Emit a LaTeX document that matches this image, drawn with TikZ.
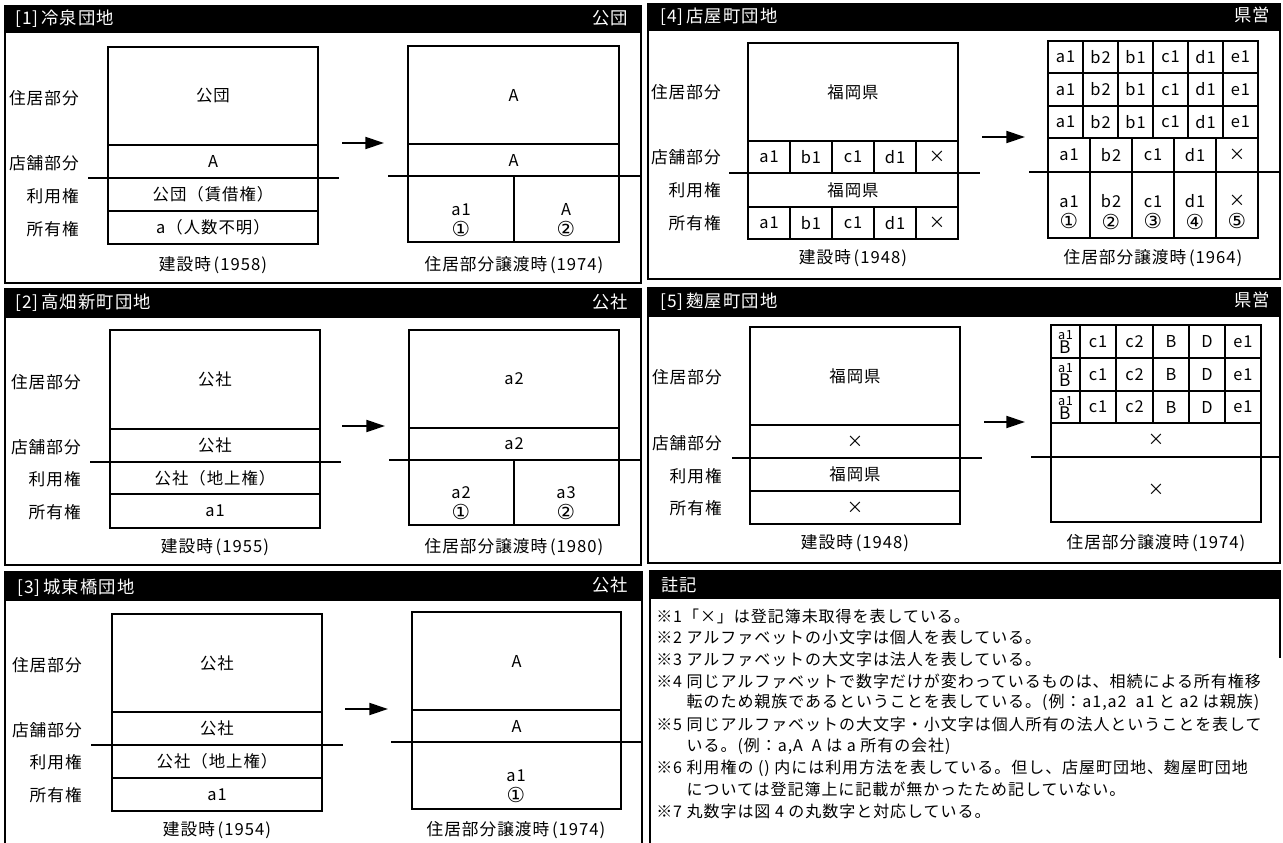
\documentclass[tikz,border=0pt]{standalone}
\usepackage{fontspec}
\setmainfont{Noto Sans CJK JP}[LetterSpace=6]
\newfontfamily\circfont{DejaVu Sans}
\usetikzlibrary{arrows.meta}
\newcommand\cn[1]{{\circfont\fontsize{15.5}{15.5}\selectfont #1}}
\newcommand\cel[6]{\node[cellbox, minimum width={(#4-#2)*0.75pt}, minimum height={(#5-#3)*0.75pt}] (#1) at ({(#2+#4)/2},{(#3+#5)/2}) {#6};}
\newcommand\rowlabels[6]{%
  \node[lbl] (#1a) at (#2,#3) {住居部分};
  \node[lbl] (#1b) at (#2,#4) {店舗部分};
  \node[lbl] (#1c) at (#2,#5) {利用権};
  \node[lbl] (#1d) at (#2,#6) {所有権};}
\begin{document}
\begin{tikzpicture}[x=0.75pt,y=-0.75pt,
  cellbox/.style={draw, line width=1.2pt, inner sep=0pt, outer sep=0pt, align=center, font=\fontsize{12.3}{16}\selectfont},
  celltext/.style={inner sep=0pt, align=center, font=\fontsize{12.3}{16}\selectfont},
  lbl/.style={anchor=east, inner sep=0pt, font=\fontsize{12.5}{14}\selectfont},
  captxt/.style={inner sep=0pt, font=\fontsize{12.5}{14}\selectfont},
  ttl/.style={text=white, inner sep=0pt, font=\fontsize{13}{15}\selectfont},
  titlebar/.style={fill=black, draw=black, line width=1.2pt},
  panelframe/.style={draw, line width=1.3pt},
  secline/.style={line width=1.3pt},
  flowarrow/.style={line width=1.4pt, -{Triangle[length=14pt,width=9pt]}},
  stacktop/.style={inner sep=0pt, font=\fontsize{9.5}{9.5}\selectfont},
  stackbot/.style={inner sep=0pt, font=\fontsize{13}{13}\selectfont},
  notetxt/.style={anchor=west, inner sep=0pt, font=\fontsize{12}{14}\selectfont}]
\useasboundingbox (0,0) rectangle (1283,843);
\fill[white] (0,0) rectangle (1283,843);

% ================= Panel 1 =================
\draw[panelframe] (5,6) rectangle (641,283);
\draw[titlebar] (5,6) rectangle (641,32);
\node[ttl, anchor=west] (t1) at (15,19) {[1]\,冷泉団地};
\node[ttl, anchor=east] (o1) at (628,18) {公団};
\rowlabels{p1}{79}{98}{163}{196}{229}
\cel{L1h}{108}{47}{318}{145}{公団}
\cel{L1s}{108}{145}{318}{178}{A}
\cel{L1u}{108}{178}{318}{211}{公団（賃借権）}
\cel{L1o}{108}{211}{318}{244}{a（人数不明）}
\coordinate (s1a) at (88,178); \coordinate (s1b) at (339,178);
\draw[secline] (s1a) -- (s1b);
\coordinate (f1a) at (342,143); \coordinate (f1b) at (384,143);
\draw[flowarrow] (f1a) -- (f1b);
\cel{R1h}{408}{46}{619}{144}{A}
\cel{R1s}{408}{144}{619}{176}{A}
\cel{R1a}{408}{176}{514}{242}{}
\cel{R1b}{514}{176}{619}{242}{}
\node[celltext] (R1at) at (461,220) {a1\\\cn{①}};
\node[celltext] (R1bt) at (566,220) {A\\\cn{②}};
\coordinate (r1a) at (388,176); \coordinate (r1b) at (641,176);
\draw[secline] (r1a) -- (r1b);
\node[captxt] (c1a) at (213,265) {建設時\,(1958)};
\node[captxt] (c1b) at (514,265) {住居部分譲渡時\,(1974)};

% ================= Panel 2 =================
\draw[panelframe] (5,289) rectangle (641,565);
\draw[titlebar] (5,289) rectangle (641,317);
\node[ttl, anchor=west] (t2) at (15,303) {[2]\,高畑新町団地};
\node[ttl, anchor=east] (o2) at (628,302) {公社};
\rowlabels{p2}{81}{382}{447}{479}{512}
\cel{L2h}{110}{330}{320}{429}{公社}
\cel{L2s}{110}{429}{320}{462}{公社}
\cel{L2u}{110}{462}{320}{494}{公社（地上権）}
\cel{L2o}{110}{494}{320}{528}{a1}
\coordinate (s2a) at (90,462); \coordinate (s2b) at (341,462);
\draw[secline] (s2a) -- (s2b);
\coordinate (f2a) at (342,426); \coordinate (f2b) at (385,426);
\draw[flowarrow] (f2a) -- (f2b);
\cel{R2h}{409}{330}{619}{428}{a2}
\cel{R2s}{409}{428}{619}{460}{a2}
\cel{R2a}{409}{460}{514}{525}{}
\cel{R2b}{514}{460}{619}{525}{}
\node[celltext] (R2at) at (461,503) {a2\\\cn{①}};
\node[celltext] (R2bt) at (566,503) {a3\\\cn{②}};
\coordinate (r2a) at (389,460); \coordinate (r2b) at (641,460);
\draw[secline] (r2a) -- (r2b);
\node[captxt] (c2a) at (215,547) {建設時\,(1955)};
\node[captxt] (c2b) at (514,547) {住居部分譲渡時\,(1980)};

% ================= Panel 3 =================
\draw[panelframe] (5,850) -- (5,572) -- (642,572) -- (642,850);
\draw[titlebar] (5,572) rectangle (642,600);
\node[ttl, anchor=west] (t3) at (17,588) {[3]\,城東橋団地};
\node[ttl, anchor=east] (o3) at (628,585) {公社};
\rowlabels{p3}{82}{665}{730}{762}{795}
\cel{L3h}{112}{614}{322}{712}{公社}
\cel{L3s}{112}{712}{322}{745}{公社}
\cel{L3u}{112}{745}{322}{778}{公社（地上権）}
\cel{L3o}{112}{778}{322}{811}{a1}
\coordinate (s3a) at (91,745); \coordinate (s3b) at (343,745);
\draw[secline] (s3a) -- (s3b);
\coordinate (f3a) at (345,709); \coordinate (f3b) at (388,709);
\draw[flowarrow] (f3a) -- (f3b);
\cel{R3h}{412}{612}{621}{710}{A}
\cel{R3s}{412}{710}{621}{742}{A}
\cel{R3o}{412}{742}{621}{809}{}
\node[celltext] (R3ot) at (516,786) {a1\\\cn{①}};
\coordinate (r3a) at (391,742); \coordinate (r3b) at (642,742);
\draw[secline] (r3a) -- (r3b);
\node[captxt] (c3a) at (217,830) {建設時\,(1954)};
\node[captxt] (c3b) at (516,830) {住居部分譲渡時\,(1974)};

% ================= Panel 4 =================
\draw[panelframe] (648,4) rectangle (1280,279);
\draw[titlebar] (648,4) rectangle (1280,30);
\node[ttl, anchor=west] (t4) at (660,17) {[4]\,店屋町団地};
\node[ttl, anchor=east] (o4) at (1270,15) {県営};
\rowlabels{p4}{721}{92}{157}{190}{223}
\cel{L4h}{748}{43}{958}{141}{福岡県}
\foreach \c/\xa/\xb/\tx in {1/748/790/a1, 2/790/832/b1, 3/832/874/c1, 4/874/916/d1, 5/916/958/×}{
  \cel{L4s\c}{\xa}{141}{\xb}{173}{\tx}
  \cel{L4o\c}{\xa}{207}{\xb}{239}{\tx}
}
\cel{L4u}{748}{173}{958}{207}{福岡県}
\coordinate (s4a) at (729,173); \coordinate (s4b) at (980,173);
\draw[secline] (s4a) -- (s4b);
\coordinate (f4a) at (982,137); \coordinate (f4b) at (1025,137);
\draw[flowarrow] (f4a) -- (f4b);
\foreach \r/\ya/\yb in {1/41/73, 2/73/106, 3/106/138}{
  \foreach \c/\xa/\xb/\tx in {1/1048/1083/a1, 2/1083/1118/b2, 3/1118/1153/b1, 4/1153/1188/c1, 5/1188/1223/d1, 6/1223/1258/e1}{
    \cel{R4h\r\c}{\xa}{\ya}{\xb}{\yb}{\tx}
  }
}
\foreach \c/\xa/\xb/\tx/\numc in {1/1048/1090/a1/①, 2/1090/1132/b2/②, 3/1132/1174/c1/③, 4/1174/1216/d1/④, 5/1216/1258/×/⑤}{
  \cel{R4s\c}{\xa}{138}{\xb}{172}{\tx}
  \cel{R4o\c}{\xa}{172}{\xb}{238}{}
  \node[celltext] (R4t\c) at ({(\xa+\xb)/2},212) {\tx\\\cn{\numc}};
}
\coordinate (r4a) at (1029,172); \coordinate (r4b) at (1279,172);
\draw[secline] (r4a) -- (r4b);
\node[captxt] (c4a) at (853,258) {建設時\,(1948)};
\node[captxt] (c4b) at (1153,258) {住居部分譲渡時\,(1964)};

% ================= Panel 5 =================
\draw[panelframe] (648,288) rectangle (1280,563);
\draw[titlebar] (648,288) rectangle (1280,316);
\node[ttl, anchor=west] (t5) at (660,302) {[5]\,麹屋町団地};
\node[ttl, anchor=east] (o5) at (1270,300) {県営};
\rowlabels{p5}{722}{377}{443}{476}{508}
\cel{L5h}{750}{327}{960}{425}{福岡県}
\cel{L5s}{750}{425}{960}{458}{×}
\cel{L5u}{750}{458}{960}{491}{福岡県}
\cel{L5o}{750}{491}{960}{524}{×}
\coordinate (s5a) at (732,458); \coordinate (s5b) at (982,458);
\draw[secline] (s5a) -- (s5b);
\coordinate (f5a) at (984,422); \coordinate (f5b) at (1025,422);
\draw[flowarrow] (f5a) -- (f5b);
\foreach \r/\ya/\yb in {1/325/358, 2/358/391, 3/391/423}{
  \cel{R5h\r1}{1051}{\ya}{1080}{\yb}{}
  \node[stacktop, anchor=south] (R5a\r) at (1065.5,{(\ya+\yb)/2-1.5}) {a1};
  \node[stackbot, anchor=north] (R5b\r) at (1065.5,{(\ya+\yb)/2-0.5}) {B};
  \foreach \c/\xa/\xb/\tx in {2/1080/1116/c1, 3/1116/1153/c2, 4/1153/1189/B, 5/1189/1225/D, 6/1225/1261/e1}{
    \cel{R5h\r\c}{\xa}{\ya}{\xb}{\yb}{\tx}
  }
}
\cel{R5s}{1051}{423}{1261}{457}{×}
\cel{R5o}{1051}{457}{1261}{522}{×}
\coordinate (r5a) at (1031,457); \coordinate (r5b) at (1281,457);
\draw[secline] (r5a) -- (r5b);
\node[captxt] (c5a) at (855,543) {建設時\,(1948)};
\node[captxt] (c5b) at (1156,543) {住居部分譲渡時\,(1974)};

% ================= Notes =================
\draw[panelframe] (650,850) -- (650,571);
\draw[panelframe] (1280,571) -- (1280,658);
\draw[titlebar] (650,571) rectangle (1280,598);
\node[ttl, anchor=west] (t6) at (661,585) {註記};
\node[notetxt] (n1) at (656,616.0) {※1「×」は登記簿未取得を表している。};
\node[notetxt] (n2) at (656,637.7) {※2 アルファベットの小文字は個人を表している。};
\node[notetxt] (n3) at (656,659.4) {※3 アルファベットの大文字は法人を表している。};
\node[notetxt] (n4) at (656,681.1) {※4 同じアルファベットで数字だけが変わっているものは、相続による所有権移};
\node[notetxt] (n4b) at (656,702.8) {\phantom{※4 }転のため親族であるということを表している。(例：a1,a2\ \ a1 と a2 は親族)};
\node[notetxt] (n5) at (656,724.5) {※5 同じアルファベットの大文字・小文字は個人所有の法人ということを表して};
\node[notetxt] (n5b) at (656,746.2) {\phantom{※5 }いる。(例：a,A\ \ A は a 所有の会社)};
\node[notetxt] (n6) at (656,767.9) {※6 利用権の () 内には利用方法を表している。但し、店屋町団地、麹屋町団地};
\node[notetxt] (n6b) at (656,789.6) {\phantom{※6 }については登記簿上に記載が無かったため記していない。};
\node[notetxt] (n7) at (656,811.3) {※7 丸数字は図 4 の丸数字と対応している。};
\end{tikzpicture}
\end{document}
